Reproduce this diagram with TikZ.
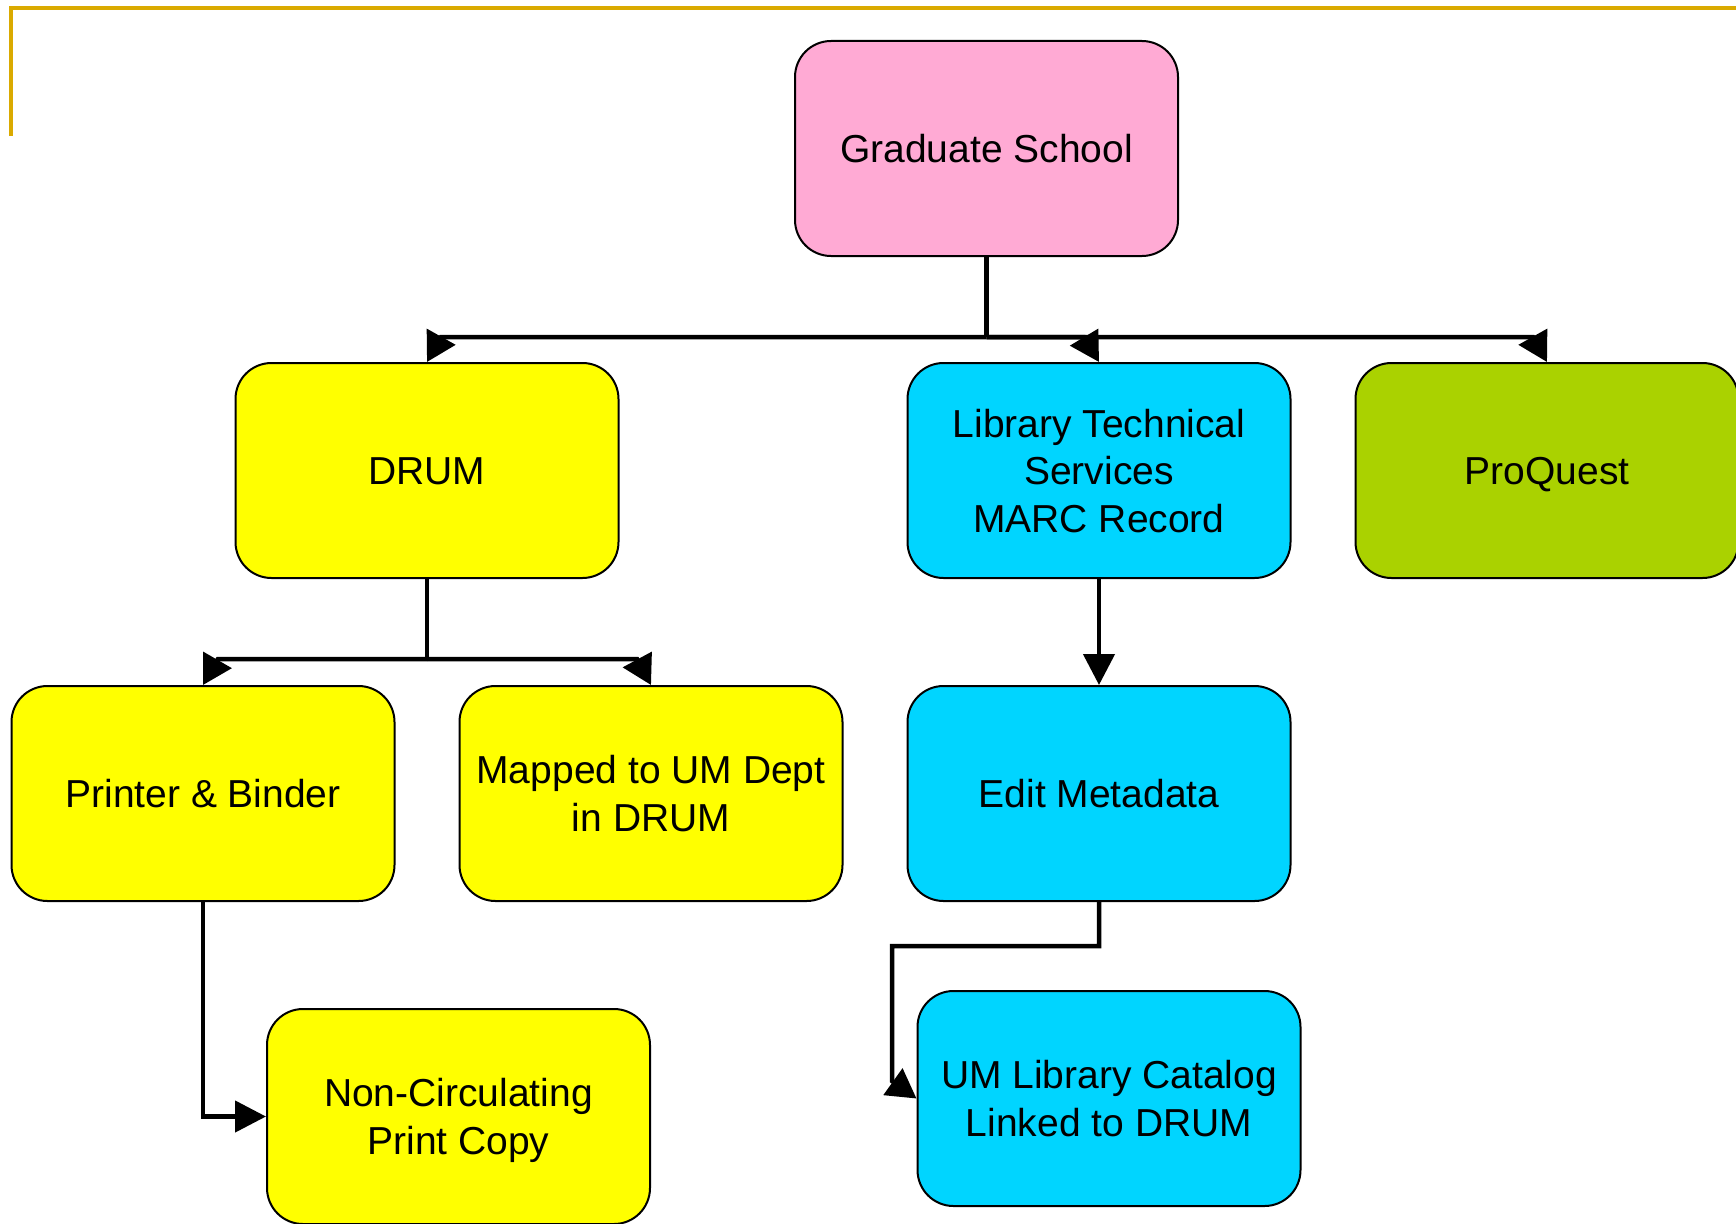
\documentclass[tikz,border=0pt]{standalone}
\usepackage{fontspec}
\setmainfont{Liberation Sans}
\usetikzlibrary{arrows.meta}
\definecolor{goldline}{RGB}{218,170,0}
\definecolor{pinkbox}{RGB}{255,170,212}
\definecolor{yellowbox}{RGB}{255,255,0}
\definecolor{cyanbox}{RGB}{0,213,255}
\definecolor{greenbox}{RGB}{170,210,0}
\begin{document}
\begin{tikzpicture}[x=1pt,y=-1pt,
  box/.style={draw=black, line width=2pt, rounded corners=36pt,
    minimum width=383pt, minimum height=215pt, align=center, inner sep=0pt,
    text depth=0pt, text=black, font=\fontsize{39}{47.6}\selectfont},
  conn/.style={line width=4.5pt, draw=black},
  headA/.style={-{Triangle[length=29pt,width=32pt]}},
  headB/.style={-{Triangle[length=31pt,width=31pt]}},
]
\useasboundingbox (0,0) rectangle (1736,1223);
\clip (0,0) rectangle (1736,1223);
\fill[white] (0,0) rectangle (1736,1223);

% gold frame corner
\draw[goldline, line width=4pt] (11,136) -- (11,8) -- (1740,8);

% boxes
\node[box, fill=pinkbox]   (grad)    at (986.5,148.5) {Graduate School};
\node[box, fill=yellowbox] (drum)    at (427,470.5)   {\raisebox{-1pt}{DRUM}};
\node[box, fill=cyanbox]   (lts)     at (1099,470.5)  {Library Technical\\Services\\MARC Record};
\node[box, fill=greenbox]  (pq)      at (1547,470.5)  {ProQuest};
\node[box, fill=yellowbox] (printer) at (203,793.5)   {Printer \& Binder};
\node[box, fill=yellowbox] (mapped)  at (651,793.5)   {Mapped to UM Dept\\in DRUM};
\node[box, fill=cyanbox]   (edit)    at (1099,793.5)  {Edit Metadata};
\node[box, fill=yellowbox] (noncirc) at (458.5,1116.5) {Non-Circulating\\Print Copy};
\node[box, fill=cyanbox]   (um)      at (1109,1098.5) {UM Library Catalog\\Linked to DRUM};

% junctions
\coordinate (j1) at (986.5,337);
\coordinate (j2) at (427,659);

% Graduate School -> DRUM, LTS, ProQuest
\draw[conn] (grad.south) -- (j1);
\draw[conn, headA] (j1) -- (441,337) -- (drum.north);
\draw[conn, headA] (j1) -- (1084,337) -- (lts.north);
\draw[conn, headA] (j1) -- (1533,337) -- (pq.north);

% DRUM -> Printer, Mapped
\draw[conn] (drum.south) -- (j2);
\draw[conn, headA] (j2) -- (218,659) -- (printer.north);
\draw[conn, headA] (j2) -- (637,659) -- (mapped.north);

% LTS -> Edit Metadata
\draw[conn, headB] (lts.south) -- (edit.north);

% Edit Metadata -> UM Library Catalog
\draw[conn, headA] (edit.south) -- (1099,946) -- (892,946) -- (892,1081) -- (um.west);

% Printer -> Non-Circulating
\draw[conn, headB] (printer.south) |- (noncirc.west);
\end{tikzpicture}
\end{document}
